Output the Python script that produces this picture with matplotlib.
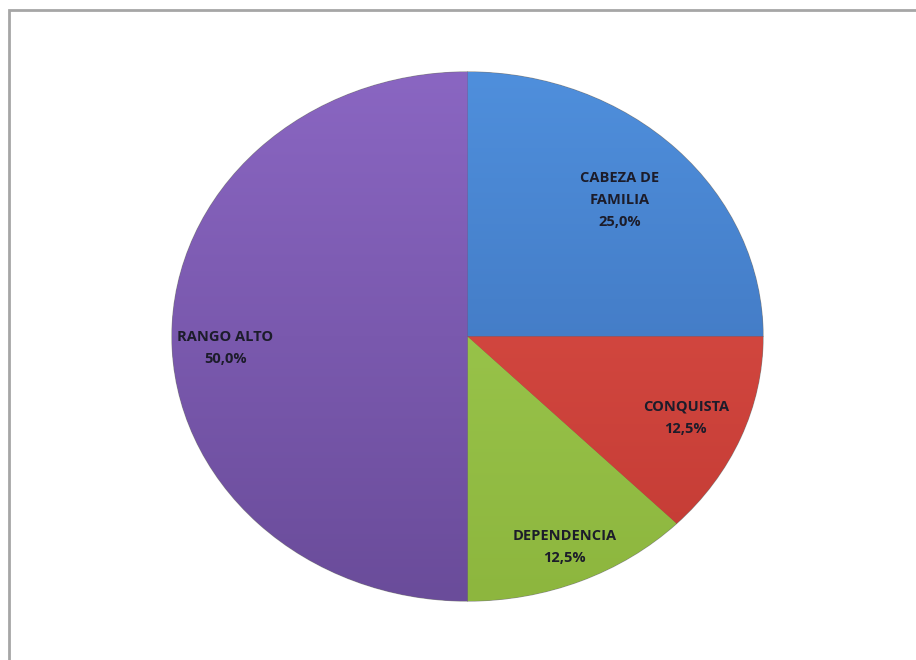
import numpy as np
import matplotlib.pyplot as plt
from matplotlib.colors import to_rgb
from matplotlib.patches import Rectangle

labels = ['CABEZA DE\nFAMILIA', 'CONQUISTA', 'DEPENDENCIA', 'RANGO ALTO']
values = [25.0, 12.5, 12.5, 50.0]
pcts = ['25,0%', '12,5%', '12,5%', '50,0%']

# light (top) / dark (bottom) shade of each slice
tops = ['#4f8fdc', '#e0524a', '#a2cf55', '#8a66c2']
bottoms = ['#3a6cb4', '#c23a33', '#8db63e', '#6a4c9a']
label_r = [0.73, 0.80, 0.86, 0.82]
label_shift = [0, 0, 0, 3]   # degrees, small nudge of the label angle

fig = plt.figure(figsize=(9.16, 6.6), dpi=100)
fig.patch.set_facecolor('white')

# grey chart frame
fig.patches.append(Rectangle((8.5 / 916, -0.1), 1.2, 650 / 660 + 0.1,
                             transform=fig.transFigure, fill=False,
                             edgecolor='#a6a6a6', linewidth=2))

ax = fig.add_axes([172 / 916, 59 / 660, 591 / 916, 529 / 660])
wedges, _ = ax.pie(values, colors=tops, startangle=90, counterclock=False,
                   radius=1, wedgeprops=dict(edgecolor='#40404090', linewidth=0.9))
ax.set_aspect('auto')
ax.set_xlim(-1, 1)
ax.set_ylim(-1, 1)
ax.axis('off')

for w, c1, c2 in zip(wedges, tops, bottoms):
    a = np.array(to_rgb(c1))
    b = np.array(to_rgb(c2))
    t = np.linspace(0, 1, 256)[:, None]
    grad = (a * (1 - t) + b * t)[:, None, :]
    im = ax.imshow(grad, extent=(-1, 1, -1, 1), origin='upper', aspect='auto',
                   zorder=w.get_zorder() + 0.1, interpolation='bilinear')
    im.set_clip_path(w)

for w, lab, p, r, s in zip(wedges, labels, pcts, label_r, label_shift):
    ang = np.deg2rad((w.theta1 + w.theta2) / 2 + s)
    ax.text(r * np.cos(ang), r * np.sin(ang), lab + '\n' + p, ha='center',
            va='center', fontsize=10.5, fontweight='bold', family='Open Sans',
            color='#1c1c2a', linespacing=1.75, zorder=5)

fig.savefig('out.png', dpi=100)
